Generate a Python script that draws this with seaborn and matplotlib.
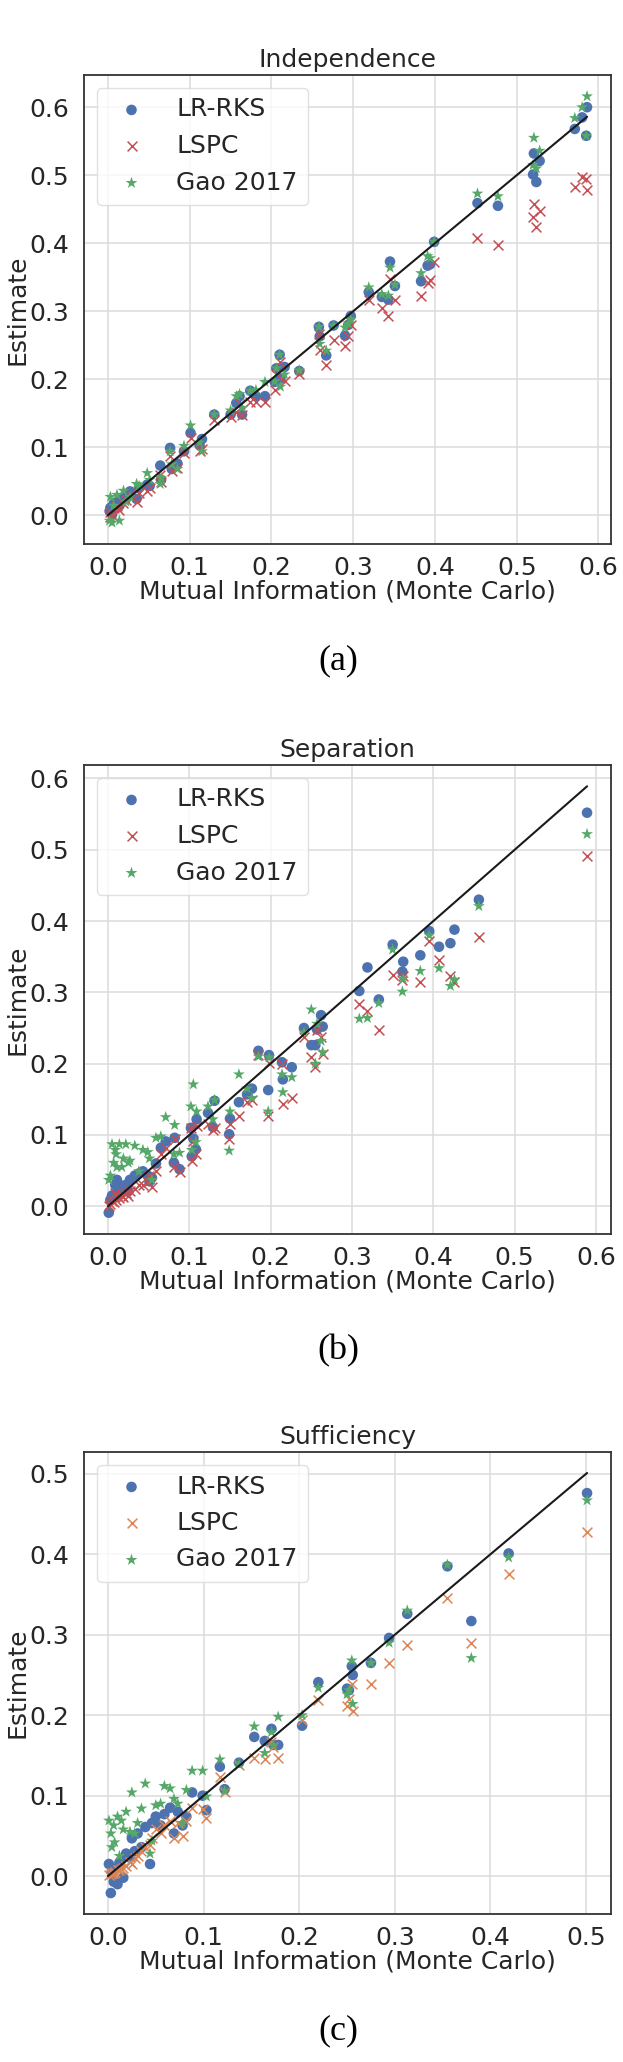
import matplotlib
matplotlib.use("Agg")
import matplotlib.pyplot as plt
import seaborn as sns

########## Data ##########

# Independence
ind_mc = [0.586, 0.585, 0.580, 0.571, 0.521, 0.520, 0.524, 0.528, 0.452, 0.477,
          0.399, 0.391, 0.394, 0.383, 0.345, 0.351, 0.343, 0.335, 0.319, 0.297,
          0.294, 0.290, 0.276, 0.267, 0.258, 0.259, 0.234, 0.210, 0.206, 0.204,
          0.216, 0.211, 0.192, 0.181, 0.174, 0.161, 0.157, 0.164, 0.150, 0.130,
          0.115, 0.101, 0.112, 0.076, 0.093, 0.085, 0.078, 0.064, 0.065, 0.048,
          0.035, 0.027, 0.019, 0.011, 0.007, 0.003, 0.002, 0.014, 0.005, 0.038,
          0.051, 0.022]
ind_lr_rks = [0.600, 0.558, 0.585, 0.568, 0.532, 0.501, 0.490, 0.521, 0.459, 0.455,
              0.402, 0.367, 0.369, 0.344, 0.373, 0.337, 0.317, 0.321, 0.328, 0.293,
              0.280, 0.264, 0.279, 0.235, 0.277, 0.263, 0.212, 0.236, 0.216, 0.196,
              0.218, 0.201, 0.175, 0.175, 0.183, 0.175, 0.165, 0.148, 0.148, 0.148,
              0.112, 0.121, 0.103, 0.099, 0.094, 0.076, 0.068, 0.073, 0.052, 0.045,
              0.024, 0.035, 0.027, 0.020, 0.017, 0.011, 0.006, 0.014, 0.001, 0.040,
              0.043, 0.024]
ind_lspc = [0.478, 0.494, 0.497, 0.483, 0.457, 0.438, 0.424, 0.447, 0.408, 0.397,
            0.372, 0.341, 0.346, 0.322, 0.347, 0.317, 0.293, 0.304, 0.317, 0.280,
            0.263, 0.249, 0.258, 0.221, 0.266, 0.243, 0.207, 0.226, 0.207, 0.184,
            0.197, 0.202, 0.167, 0.167, 0.167, 0.164, 0.152, 0.147, 0.145, 0.140,
            0.097, 0.113, 0.094, 0.087, 0.091, 0.070, 0.065, 0.059, 0.049, 0.036,
            0.020, 0.030, 0.018, 0.014, 0.011, 0.004, -0.002, 0.008, 0.000, 0.033,
            0.040, 0.022]
ind_gao = [0.616, 0.558, 0.600, 0.584, 0.555, 0.515, 0.510, 0.536, 0.473, 0.469,
           0.402, 0.381, 0.378, 0.356, 0.364, 0.339, 0.323, 0.325, 0.335, 0.288,
           0.282, 0.276, 0.279, 0.242, 0.277, 0.252, 0.213, 0.236, 0.216, 0.197,
           0.207, 0.189, 0.196, 0.184, 0.183, 0.178, 0.175, 0.158, 0.154, 0.148,
           0.094, 0.132, 0.107, 0.094, 0.102, 0.068, 0.075, 0.046, 0.055, 0.062,
           0.046, 0.027, 0.036, 0.030, 0.014, 0.027, -0.008, -0.008, -0.011, 0.043,
           0.052, 0.020]

# Separation
sep_mc = [0.589, 0.456, 0.426, 0.421, 0.407, 0.395, 0.384, 0.363, 0.362, 0.350,
          0.319, 0.309, 0.333, 0.262, 0.264, 0.250, 0.255, 0.241, 0.257, 0.226,
          0.215, 0.214, 0.198, 0.197, 0.185, 0.177, 0.171, 0.161, 0.150, 0.149,
          0.131, 0.129, 0.123, 0.109, 0.105, 0.102, 0.108, 0.103, 0.082, 0.081,
          0.088, 0.071, 0.065, 0.059, 0.051, 0.043, 0.033, 0.027, 0.022, 0.017,
          0.014, 0.010, 0.007, 0.005, 0.003, 0.001, 0.019, 0.025, 0.038, 0.009,
          0.011, 0.049, 0.054]
sep_lr_rks = [0.552, 0.430, 0.388, 0.369, 0.364, 0.386, 0.352, 0.343, 0.329, 0.367,
              0.335, 0.302, 0.290, 0.268, 0.252, 0.226, 0.226, 0.250, 0.248, 0.195,
              0.178, 0.202, 0.212, 0.163, 0.218, 0.165, 0.157, 0.146, 0.123, 0.101,
              0.148, 0.111, 0.131, 0.122, 0.095, 0.110, 0.080, 0.070, 0.096, 0.061,
              0.052, 0.091, 0.082, 0.060, 0.035, 0.049, 0.043, 0.037, 0.030, 0.024,
              0.030, 0.018, 0.012, 0.015, 0.009, -0.009, 0.024, 0.021, 0.046, 0.030,
              0.037, 0.043, 0.040]
sep_lspc = [0.491, 0.377, 0.315, 0.323, 0.346, 0.372, 0.315, 0.323, 0.318, 0.325,
            0.274, 0.283, 0.247, 0.238, 0.213, 0.209, 0.195, 0.238, 0.247, 0.152,
            0.143, 0.200, 0.201, 0.127, 0.212, 0.149, 0.146, 0.126, 0.116, 0.095,
            0.110, 0.107, 0.116, 0.113, 0.091, 0.110, 0.073, 0.064, 0.095, 0.055,
            0.048, 0.082, 0.073, 0.049, 0.043, 0.030, 0.024, 0.021, 0.018, 0.015,
            0.012, 0.009, 0.006, 0.007, 0.003, 0.000, 0.013, 0.015, 0.030, 0.018,
            0.015, 0.034, 0.027]
sep_gao = [0.522, 0.421, 0.318, 0.309, 0.334, 0.380, 0.330, 0.319, 0.301, 0.360,
           0.264, 0.263, 0.285, 0.232, 0.216, 0.276, 0.200, 0.244, 0.256, 0.181,
           0.160, 0.185, 0.209, 0.133, 0.210, 0.152, 0.165, 0.185, 0.133, 0.078,
           0.149, 0.122, 0.140, 0.133, 0.171, 0.140, 0.090, 0.079, 0.114, 0.073,
           0.075, 0.125, 0.098, 0.096, 0.067, 0.079, 0.085, 0.064, 0.087, 0.055,
           0.087, 0.073, 0.061, 0.087, 0.043, 0.037, 0.067, 0.061, 0.049, 0.079,
           0.055, 0.076, 0.037]

# Sufficiency
suf_mc = [0.501, 0.419, 0.380, 0.355, 0.313, 0.294, 0.275, 0.255, 0.256, 0.250,
          0.252, 0.220, 0.203, 0.178, 0.171, 0.164, 0.153, 0.173, 0.137, 0.122,
          0.117, 0.103, 0.099, 0.088, 0.082, 0.078, 0.065, 0.059, 0.050, 0.046,
          0.044, 0.039, 0.035, 0.031, 0.025, 0.019, 0.014, 0.010, 0.006, 0.003,
          0.001, 0.004, 0.007, 0.016, 0.012, 0.023, 0.028, 0.055, 0.069, 0.073]
suf_lr_rks = [0.476, 0.401, 0.317, 0.385, 0.326, 0.296, 0.265, 0.261, 0.250, 0.233,
              0.231, 0.241, 0.187, 0.163, 0.183, 0.168, 0.173, 0.163, 0.141, 0.108,
              0.136, 0.082, 0.100, 0.104, 0.074, 0.063, 0.085, 0.077, 0.074, 0.066,
              0.015, 0.061, 0.036, 0.053, 0.047, 0.028, 0.020, -0.010, -0.007, -0.021,
              0.015, 0.004, 0.009, -0.002, 0.017, 0.023, 0.031, 0.063, 0.053, 0.080]
suf_lspc = [0.428, 0.376, 0.290, 0.346, 0.287, 0.265, 0.239, 0.239, 0.205, 0.212,
            0.220, 0.219, 0.194, 0.147, 0.167, 0.145, 0.147, 0.161, 0.138, 0.104,
            0.123, 0.072, 0.084, 0.085, 0.069, 0.050, 0.069, 0.063, 0.058, 0.047,
            0.039, 0.036, 0.031, 0.025, 0.015, 0.012, 0.009, 0.007, 0.004, 0.003,
            0.001, 0.004, 0.005, 0.010, 0.008, 0.017, 0.023, 0.053, 0.047, 0.066]
suf_gao = [0.467, 0.396, 0.271, 0.387, 0.330, 0.290, 0.265, 0.268, 0.214, 0.226,
           0.231, 0.234, 0.200, 0.198, 0.179, 0.153, 0.186, 0.163, 0.139, 0.106,
           0.145, 0.099, 0.131, 0.131, 0.107, 0.066, 0.109, 0.112, 0.088, 0.044,
           0.028, 0.115, 0.084, 0.066, 0.104, 0.080, 0.069, 0.074, 0.063, 0.053,
           0.069, 0.036, 0.042, 0.058, 0.025, 0.055, 0.053, 0.090, 0.096, 0.090]

titles = ["Independence", "Separation", "Sufficiency"]
captions = ["(a)", "(b)", "(c)"]

########## Style ##########

sns.set_theme(style="whitegrid", rc={
    "axes.edgecolor": "0.2",
    "axes.linewidth": 1.3,
    "grid.color": "0.86",
    "grid.linewidth": 1.1,
    "text.color": "0.15",
    "axes.labelcolor": "0.15",
    "xtick.color": "0.15",
    "ytick.color": "0.15",
})
plt.rcParams["font.family"] = ["DejaVu Sans"]

blue = "#4C72B0"
red = "#C44E52"
green = "#55A868"
orange = "#DD8452"

panels = [
    (ind_mc, ind_lr_rks, ind_lspc, ind_gao, red),
    (sep_mc, sep_lr_rks, sep_lspc, sep_gao, red),
    (suf_mc, suf_lr_rks, suf_lspc, suf_gao, orange),
]

W, H = 623, 2062
fig = plt.figure(figsize=(W / 100, H / 100), dpi=100)

# axes boxes in pixels: (top, bottom)
boxes = [(75, 544), (765, 1234), (1452, 1914)]
caption_y = [661, 1351, 2031]
left_px, right_px = 84, 611
fs = 18

for i, (mc, lr, lspc, gao, lspc_color) in enumerate(panels):
    top, bottom = boxes[i]
    h = bottom - top
    ax = fig.add_axes([left_px / W, 1 - bottom / H, (right_px - left_px) / W, h / H])

    sns.scatterplot(x=mc, y=lr, ax=ax, color=blue, marker="o", s=58,
                    edgecolor="none", label="LR-RKS", zorder=3)
    sns.scatterplot(x=mc, y=lspc, ax=ax, color=lspc_color, marker="x", s=50,
                    linewidth=1.1, label="LSPC", zorder=3)
    sns.scatterplot(x=mc, y=gao, ax=ax, color=green, marker="*", s=80,
                    edgecolor="none", label="Gao 2017", zorder=3)

    top_val = max(mc)
    ax.plot([0, top_val], [0, top_val], color="0.1", linewidth=1.5, zorder=4)

    ax.set_title(titles[i], fontsize=fs, pad=6)
    ax.set_xlabel("Mutual Information (Monte Carlo)", fontsize=fs)
    ax.set_ylabel("Estimate", fontsize=fs)
    ax.xaxis.set_label_coords(0.5, -35 / h)
    ax.yaxis.set_label_coords((30 - left_px) / (right_px - left_px), 0.5)
    ax.tick_params(axis="both", length=0, labelsize=fs)
    ax.tick_params(axis="y", pad=10.5)
    ax.tick_params(axis="x", pad=8.5)
    for s in ax.spines.values():
        s.set_visible(True)
        s.set_color("0.2")

    ax.legend(loc="upper left", fontsize=fs, scatterpoints=1, frameon=True,
              framealpha=0.8, edgecolor="0.85")

    fig.text(338 / W, 1 - caption_y[i] / H, captions[i], ha="center", va="center",
             fontsize=26, family=["Liberation Serif", "DejaVu Serif"], color="black")

fig.savefig("out.png", dpi=100)
